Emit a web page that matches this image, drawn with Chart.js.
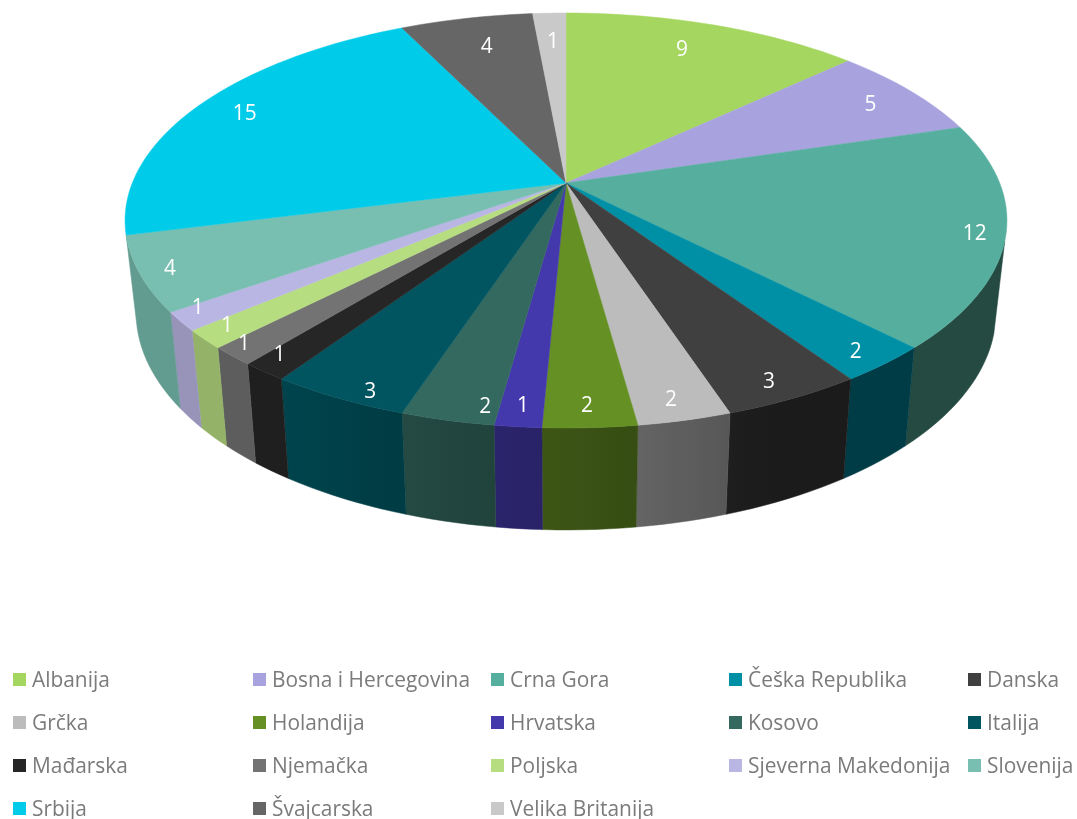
<!DOCTYPE html>
<html>
<head>
<meta charset="utf-8">
<title>Pie</title>
<script src="https://cdn.jsdelivr.net/npm/chart.js@4"></script>
<style>
  html, body { margin: 0; padding: 0; background: #fff; width: 1077px; height: 819px; overflow: hidden; }
  #wrap { position: relative; width: 1077px; height: 819px; }
  #legend {
    position: absolute; left: 13px; top: 658px;
    display: grid; grid-template-columns: 240px 238px 238px 239px 109px; grid-auto-rows: 43px;
    font: 20.9px "Open Sans", sans-serif; color: #7b7b7b; line-height: 1;
  }
  #legend div { display: flex; align-items: center; white-space: nowrap; }
  #legend span { display: block; width: 13px; height: 13px; margin-right: 6px; flex: none; }
</style>
</head>
<body>
<div id="wrap">
  <canvas id="pie-chart" width="1077" height="819"></canvas>
  <div id="legend"></div>
</div>
<script>
const countries = ['Albanija', 'Bosna i Hercegovina', 'Crna Gora', 'Češka Republika', 'Danska',
  'Grčka', 'Holandija', 'Hrvatska', 'Kosovo', 'Italija',
  'Mađarska', 'Njemačka', 'Poljska', 'Sjeverna Makedonija', 'Slovenija',
  'Srbija', 'Švajcarska', 'Velika Britanija'];
const counts = [9, 5, 12, 2, 3, 2, 2, 1, 2, 3, 1, 1, 1, 1, 4, 15, 4, 1];
const colors = ['#a5d65f', '#a8a3de', '#56af9e', '#0090a6', '#404040',
  '#bcbcbc', '#659024', '#4439ac', '#33695f', '#005560',
  '#262626', '#737373', '#b7dd81', '#bab6e4', '#79bfb1',
  '#00cbe8', '#666666', '#c9c9c9'];

// small nudges for the value labels, in px from the computed spot
const labelNudges = [[-10, 1], [0, 3], [1, 3], [-3, 3], [-6, 2],
  [-4, 0], [-1, -1], [1, 0], [28, 7], [13, 12],
  [-9, -1], [-15, 2], [-6, -1], [-13, -3], [-2, 2],
  [5, 1], [5, 3], [1, 2]];

// perspective of the tilted disc, fitted to the picture
const CX = 566, CY = 183, A = 433.7, B = 200.7, K = -0.1807;
// walls only show between these angles, clockwise from the top
const WALL_FROM = 106, WALL_TO = 255.5;

function topPoint(u, v) {
  const d = 1 + K * v;
  return [CX + A * u / d, CY + B * v / d];
}

// the lower rim is a bit narrower and pushed down
function bottomPoint(u, v) {
  const p = topPoint(u, v);
  return [CX + 0.975 * (p[0] - CX), 1.049 * p[1] + 81];
}

// wall brightness depends on where it faces
function wallShade(deg) {
  if (deg <= 155) return 0.42;
  if (deg >= 215) return 0.81;
  return 0.42 + (deg - 155) / 60 * 0.39;
}

function darken(hex, f) {
  const n = parseInt(hex.slice(1), 16);
  const r = Math.round((n >> 16) * f);
  const g = Math.round(((n >> 8) & 255) * f);
  const b = Math.round((n & 255) * f);
  return 'rgb(' + r + ',' + g + ',' + b + ')';
}

function sweep(start, end) {
  const out = [];
  const steps = Math.max(2, Math.ceil((end - start) / 0.03));
  for (let i = 0; i <= steps; i++) {
    out.push(start + (end - start) * i / steps);
  }
  return out;
}

function toDeg(a) {
  return (a + Math.PI / 2) * 180 / Math.PI;
}

function toRad(deg) {
  return deg * Math.PI / 180 - Math.PI / 2;
}

const pie3d = {
  id: 'pie3d',
  beforeDatasetsDraw(chart) {
    const ctx = chart.ctx;
    const arcs = chart.getDatasetMeta(0).data;

    // outer walls
    arcs.forEach((arc, i) => {
      const from = Math.max(arc.startAngle, toRad(WALL_FROM));
      const to = Math.min(arc.endAngle, toRad(WALL_TO));
      if (to <= from) return;
      const angles = sweep(from, to);
      const tops = angles.map(a => topPoint(Math.cos(a), Math.sin(a)));
      const bots = angles.map(a => bottomPoint(Math.cos(a), Math.sin(a)));
      const grad = ctx.createLinearGradient(tops[0][0], 0, tops[tops.length - 1][0], 0);
      angles.forEach((a, j) => {
        grad.addColorStop(j / (angles.length - 1), darken(colors[i], wallShade(toDeg(a))));
      });
      ctx.beginPath();
      tops.forEach((p, j) => j ? ctx.lineTo(p[0], p[1]) : ctx.moveTo(p[0], p[1]));
      bots.reverse().forEach(p => ctx.lineTo(p[0], p[1]));
      ctx.closePath();
      ctx.fillStyle = grad;
      ctx.strokeStyle = grad;
      ctx.lineWidth = 0.5;
      ctx.fill();
      ctx.stroke();
    });

    // top faces
    arcs.forEach((arc, i) => {
      ctx.beginPath();
      ctx.moveTo(CX, CY);
      sweep(arc.startAngle, arc.endAngle).forEach(a => {
        const p = topPoint(Math.cos(a), Math.sin(a));
        ctx.lineTo(p[0], p[1]);
      });
      ctx.closePath();
      ctx.fillStyle = colors[i];
      ctx.strokeStyle = colors[i];
      ctx.lineWidth = 0.5;
      ctx.fill();
      ctx.stroke();
    });

    // value labels
    ctx.font = '20.9px "Open Sans", sans-serif';
    ctx.fillStyle = '#ffffff';
    ctx.textAlign = 'center';
    ctx.textBaseline = 'middle';
    arcs.forEach((arc, i) => {
      const mid = (arc.startAngle + arc.endAngle) / 2;
      const u = Math.cos(mid), v = Math.sin(mid);
      const r = v >= 0 ? 0.93 : 0.93 + 0.11 * v;
      const p = topPoint(r * u, r * v);
      ctx.fillText(String(counts[i]), p[0] + labelNudges[i][0], p[1] + labelNudges[i][1]);
    });
    return false;
  }
};

const chart = new Chart('pie-chart', {
  type: 'pie',
  data: {
    labels: countries,
    datasets: [{
      data: counts,
      backgroundColor: colors,
      borderWidth: 0
    }]
  },
  options: {
    responsive: false,
    animation: false,
    plugins: {
      legend: { display: false }
    }
  },
  plugins: [pie3d]
});

// legend sits on a fixed grid, the built in one cannot line up columns
const legendBox = document.getElementById('legend');
chart.data.labels.forEach((name, i) => {
  const item = document.createElement('div');
  const box = document.createElement('span');
  box.style.background = colors[i];
  item.appendChild(box);
  item.appendChild(document.createTextNode(name));
  legendBox.appendChild(item);
});
</script>
</body>
</html>
